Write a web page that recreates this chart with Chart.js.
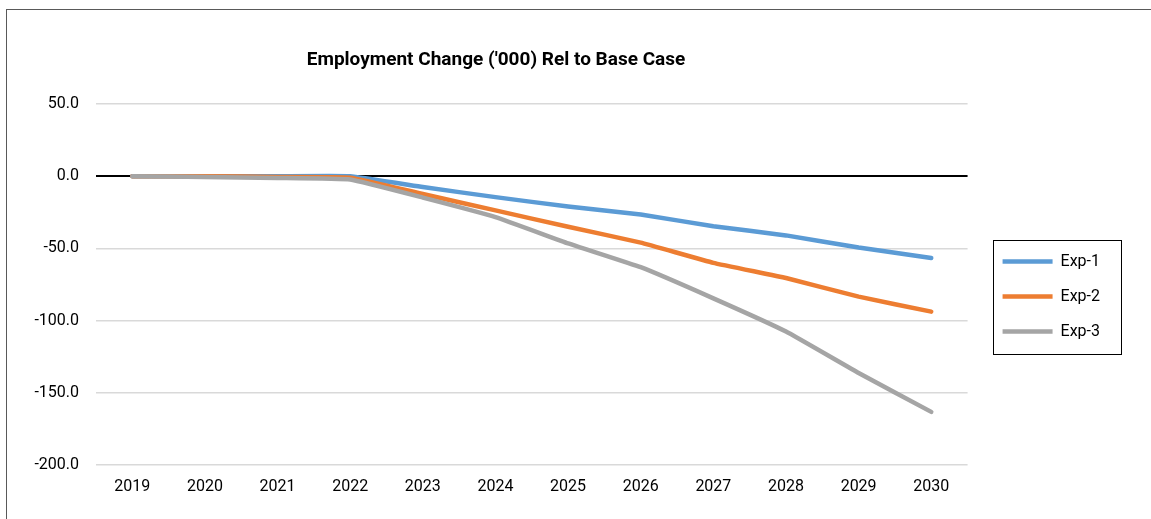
<!DOCTYPE html>
<html>
<head>
<meta charset="utf-8">
<script src="https://cdn.jsdelivr.net/npm/chart.js@4"></script>
<style>
  html, body { margin: 0; padding: 0; background: #fff; overflow: hidden; }
  #wrap { position: relative; width: 1151px; height: 519px; }
  #frame { position: absolute; left: 6px; top: 9px; width: 1170px; height: 540px; border: 1px solid #595959; box-sizing: border-box; }
  canvas { position: absolute; left: 0; top: 0; }
</style>
</head>
<body>
<div id="wrap">
  <div id="frame"></div>
  <canvas id="chartLine" width="1151" height="519"></canvas>
</div>
<script>
const years = ["2019", "2020", "2021", "2022", "2023", "2024", "2025", "2026", "2027", "2028", "2029", "2030"];
const exp1 = [0, 0, 0, 0, -7.5, -14.5, -21, -26.5, -34.7, -41, -49.4, -56.6];
const exp2 = [0, 0, -0.5, -1, -12.3, -23.7, -35, -46, -60, -70.5, -83.4, -93.8];
const exp3 = [0, -0.5, -1.2, -2.3, -14.8, -28.3, -46.5, -63, -84.6, -107.6, -136.3, -163.2];
const seriesNames = ["Exp-1", "Exp-2", "Exp-3"];
const colors = ["#5B9BD5", "#ED7D31", "#A5A5A5"];
const titleText = "Employment Change ('000) Rel to Base Case";
const yMin = -200;
const yMax = 50;
const yStep = 50;

const font = "Roboto, 'Liberation Sans', sans-serif";

// title centred over the whole chart box, like the spreadsheet does
const titlePlugin = {
  id: "titlePlugin",
  afterDraw(chart) {
    const ctx = chart.ctx;
    ctx.save();
    ctx.font = "bold 19px " + font;
    ctx.fillStyle = "#000";
    ctx.textAlign = "center";
    ctx.textBaseline = "middle";
    ctx.fillText(titleText, 496, 60);
    ctx.restore();
  },
};

// move the legend a bit and put a box round it
const legendBox = {
  id: "legendBox",
  afterLayout(chart) {
    const lg = chart.legend;
    lg.left += 16; lg.right += 16;
    lg.top -= 15; lg.bottom -= 15;
  },
  afterDraw(chart) {
    const lg = chart.legend;
    const x0 = lg.left + 9;
    const x1 = 1121;
    const midY = (lg.top + lg.bottom) / 2;
    const y0 = midY - 57;
    const y1 = midY + 57;
    const ctx = chart.ctx;
    ctx.save();
    ctx.strokeStyle = "#000";
    ctx.lineWidth = 1;
    ctx.strokeRect(Math.round(x0) + 0.5, Math.round(y0) + 0.5, Math.round(x1 - x0), Math.round(y1 - y0));
    ctx.restore();
  },
};

const datasets = [exp1, exp2, exp3].map((d, i) => ({
  label: seriesNames[i],
  data: d,
  borderColor: colors[i],
  backgroundColor: colors[i],
  borderWidth: 4.5,
  borderCapStyle: "round",
  borderJoinStyle: "round",
  pointRadius: 0,
  tension: 0.1,
  order: 3 - i,
}));

new Chart(document.getElementById("chartLine"), {
  type: "line",
  data: { labels: years, datasets: datasets },
  options: {
    responsive: false,
    animation: false,
    layout: { padding: { top: 104, right: 57, bottom: 0, left: 0 } },
    plugins: {
      title: { display: false },
      tooltip: { enabled: false },
      legend: {
        position: "right",
        labels: {
          usePointStyle: true,
          pointStyle: "line",
          pointStyleWidth: 50,
          padding: 19,
          color: "#000",
          font: { family: font, size: 16 },
          sort: (a, b) => a.datasetIndex - b.datasetIndex,
        },
      },
    },
    scales: {
      x: {
        offset: true,
        grid: { display: false, drawTicks: false },
        border: { display: false },
        ticks: { color: "#000", font: { family: font, size: 16 }, padding: 12, maxRotation: 0 },
        afterFit: (s) => { s.height = 54; },
      },
      y: {
        min: yMin,
        max: yMax,
        grid: {
          drawTicks: false,
          color: (c) => (c.tick && c.tick.value === 0 ? "#000" : "#D9D9D9"),
          lineWidth: (c) => (c.tick && c.tick.value === 0 ? 2 : 1.5),
        },
        border: { display: false },
        ticks: {
          stepSize: yStep,
          color: "#000",
          font: { family: font, size: 16 },
          padding: 17,
          callback: (v) => v.toFixed(1),
        },
        afterFit: (s) => { s.width = 96; },
      },
    },
  },
  plugins: [titlePlugin, legendBox],
});
</script>
</body>
</html>
